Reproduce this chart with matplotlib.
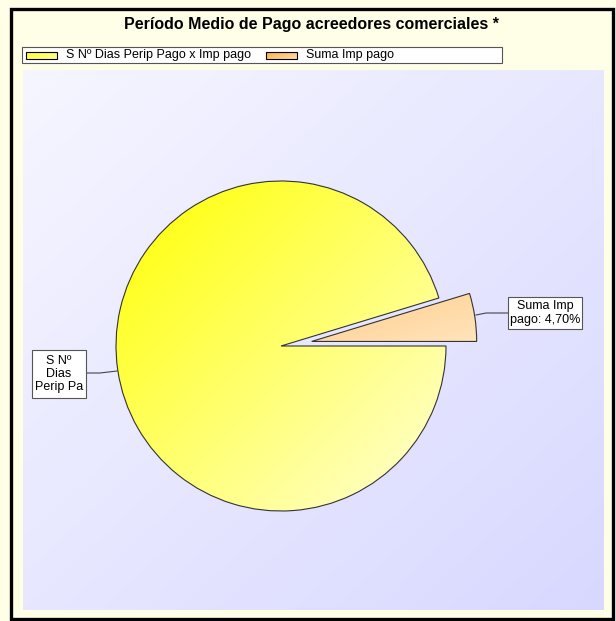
import numpy as np
import matplotlib.pyplot as plt
from matplotlib.patches import Rectangle
from matplotlib.colors import to_rgb

titulo = 'Período Medio de Pago acreedores comerciales *'
series = ['S Nº Dias Perip Pago x Imp pago', 'Suma Imp pago']
valores = [95.30, 4.70]
etiquetas = ['S Nº\nDias\nPerip Pa', 'Suma Imp\npago: {:.2f}%'.format(4.70).replace('.', ',')]

plt.rcParams['font.family'] = ['Liberation Sans', 'DejaVu Sans']

W, H = 616, 621


def degradado(c1, c2, n=200):
    x = np.linspace(0, 1, n)
    t = (x[None, :] + x[:, None]) / 2
    a = np.array(to_rgb(c1))
    b = np.array(to_rgb(c2))
    return a + (b - a) * t[..., None]


fig = plt.figure(figsize=(W / 100, H / 100), dpi=100)
fig.patch.set_facecolor('#FFFFE8')
ax = fig.add_axes([0, 0, 1, 1])
ax.axis('off')

# marco exterior
ax.add_patch(Rectangle((11, H - 619), 602, 610, fill=False, ec='black', lw=2.4, zorder=1))

# zona de grafico con degradado
ax.imshow(degradado('#F6F6FF', '#D8D8FF'), extent=[22.5, 603.5, H - 610.5, H - 71],
          aspect='auto', zorder=2, interpolation='bilinear')

# titulo
ax.text(312, H - 25, titulo, ha='center', va='center', fontsize=11.5, fontweight='bold', zorder=5)

# leyenda
ax.add_patch(Rectangle((22, H - 63), 480, 16, fc='white', ec='#555555', lw=0.8, zorder=4))
swatch = [('#FFFF20', '#FFFFA0'), ('#FFA840', '#FFE0B0')]
pos_x = [26, 266]
for i, nombre in enumerate(series):
    x0 = pos_x[i]
    ax.imshow(degradado(*swatch[i]), extent=[x0, x0 + 31, H - 59, H - 52], aspect='auto', zorder=5)
    ax.add_patch(Rectangle((x0, H - 59), 31, 7, fill=False, ec='black', lw=0.8, zorder=6))
    ax.text(x0 + 40, H - 55, nombre, ha='left', va='center', fontsize=9, zorder=6)

# tarta (explode en unidades de datos = pixeles)
cx, cy, r = 281, H - 346, 165
ang0 = 360 * valores[1] / sum(valores)
wedges, _ = ax.pie(valores, startangle=ang0, center=(cx, cy), radius=r,
                   explode=[0, 31], counterclock=True,
                   wedgeprops=dict(fc='none', ec='#333333', lw=0.8))
for w in wedges:
    w.set_zorder(8)

colores = [('#FFFF00', '#FFFFD8'), ('#FFCC88', '#FFE4BC')]
for w, (c1, c2) in zip(wedges, colores):
    bb = w.get_path().get_extents(w.get_patch_transform())
    im = ax.imshow(degradado(c1, c2), extent=[bb.x0, bb.x1, bb.y0, bb.y1],
                   aspect='auto', zorder=7, interpolation='bilinear')
    im.set_clip_path(w)

# etiquetas
ax.plot([86, 100, 117], [H - 373, H - 373, H - 371], color='#444444', lw=0.8, zorder=9)
ax.add_patch(Rectangle((32, H - 398), 54, 48, fc='white', ec='#555555', lw=0.8, zorder=9))
ax.text(59, H - 374, etiquetas[0], ha='center', va='center', fontsize=9,
        linespacing=1.15, zorder=10)

ax.plot([476, 486, 508], [H - 315, H - 313, H - 313], color='#444444', lw=0.8, zorder=9)
ax.add_patch(Rectangle((508, H - 329), 74, 32, fc='white', ec='#555555', lw=0.8, zorder=9))
ax.text(545, H - 313, etiquetas[1], ha='center', va='center', fontsize=9,
        linespacing=1.15, zorder=10)

ax.set_xlim(0, W)
ax.set_ylim(0, H)
ax.set_aspect('auto')

fig.savefig('out.png', dpi=100, facecolor=fig.get_facecolor())
